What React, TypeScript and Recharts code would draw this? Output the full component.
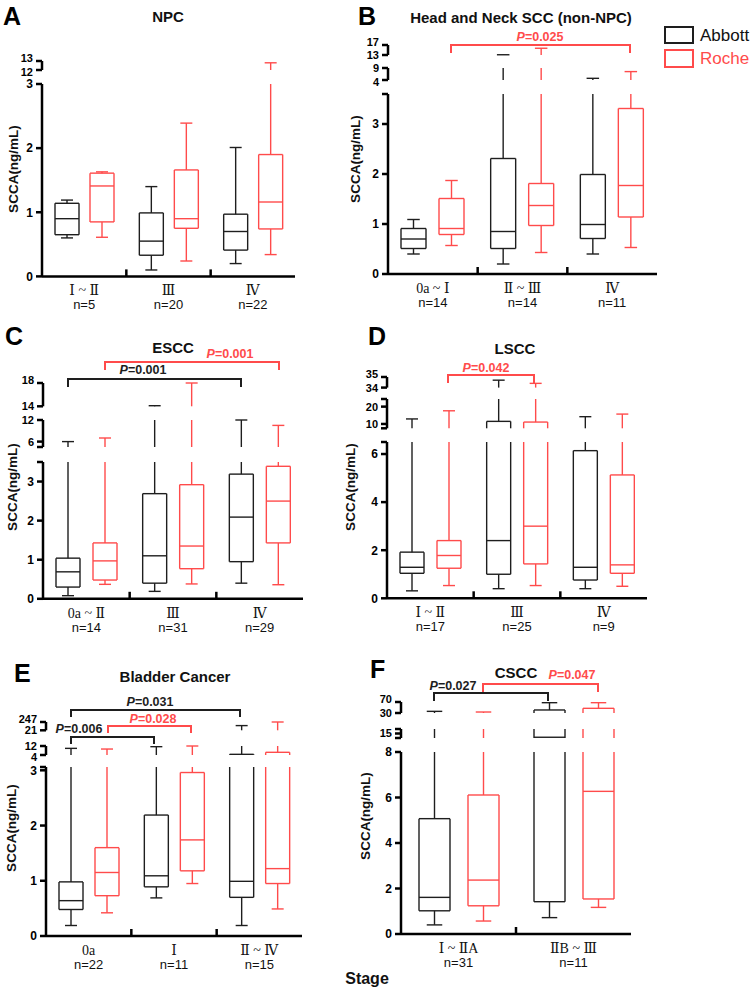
import React from 'react'
import { Bar, ComposedChart, XAxis, YAxis } from 'recharts'

type Box = [number, number, number, number, number] // min, q1, median, q3, max
type Seg = { lo: number; hi: number; ticks: number[]; labels: number[] }

const BLACK = '#1e1e1e'
const RED = '#ff4b4b'
const SANS = "Arial, 'Liberation Sans', Helvetica, sans-serif"
const SERIF = "'Times New Roman', 'Liberation Serif', 'DejaVu Serif', serif"

// ---- A: NPC ----
const npcStages = ['Ⅰ ~ Ⅱ', 'Ⅲ', 'Ⅳ']
const npcN = [5, 20, 22]
const npcAbbott: Box[] = [[0.6, 0.65, 0.9, 1.14, 1.19], [0.1, 0.33, 0.55, 0.99, 1.4], [0.2, 0.41, 0.7, 0.97, 2.01]]
const npcRoche: Box[] = [[0.61, 0.85, 1.41, 1.61, 1.63], [0.24, 0.75, 0.9, 1.66, 2.39], [0.34, 0.74, 1.16, 1.9, 12.8]]
const npcAxis: Seg[] = [
  { lo: 12, hi: 13, ticks: [12, 13], labels: [12, 13] },
  { lo: 0, hi: 3, ticks: [0, 1, 2, 3], labels: [0, 1, 2, 3] },
]

// ---- B: Head and Neck SCC ----
const hnStages = ['0a ~ Ⅰ', 'Ⅱ ~ Ⅲ', 'Ⅳ']
const hnN = [14, 14, 11]
const hnAbbott: Box[] = [[0.4, 0.51, 0.7, 0.91, 1.09], [0.2, 0.51, 0.85, 2.31, 13.1], [0.4, 0.71, 0.99, 1.99, 4.7]]
const hnRoche: Box[] = [[0.57, 0.79, 0.91, 1.51, 1.87], [0.43, 0.97, 1.37, 1.81, 15.7], [0.53, 1.14, 1.77, 3.31, 7.5]]
const hnAxis: Seg[] = [
  { lo: 13, hi: 17, ticks: [13, 17], labels: [13, 17] },
  { lo: 4, hi: 9, ticks: [4, 9], labels: [4, 9] },
  { lo: 0, hi: 3.6, ticks: [0, 1, 2, 3, 3.6], labels: [0, 1, 2, 3] },
]

// ---- C: ESCC ----
const esStages = ['0a ~ Ⅱ', 'Ⅲ', 'Ⅳ']
const esN = [14, 31, 29]
const esAbbott: Box[] = [[0.08, 0.3, 0.69, 1.04, 6.0], [0.19, 0.4, 1.1, 2.69, 14.1], [0.4, 0.95, 2.09, 3.19, 12.0]]
const esRoche: Box[] = [[0.37, 0.48, 0.97, 1.43, 7.0], [0.38, 0.77, 1.35, 2.92, 18.0], [0.36, 1.43, 2.5, 3.39, 10.5]]
const esAxis: Seg[] = [
  { lo: 14, hi: 18, ticks: [14, 18], labels: [14, 18] },
  { lo: 4.5, hi: 12, ticks: [4.5, 6, 12], labels: [6, 12] },
  { lo: 0, hi: 3.5, ticks: [0, 1, 2, 3, 3.5], labels: [0, 1, 2, 3] },
]

// ---- D: LSCC ----
const lsStages = ['Ⅰ ~ Ⅱ', 'Ⅲ', 'Ⅳ']
const lsN = [17, 25, 9]
const lsAbbott: Box[] = [[0.31, 1.04, 1.29, 1.92, 12.9], [0.4, 1.0, 2.4, 11.5, 34.7], [0.4, 0.76, 1.29, 6.14, 14.2]]
const lsRoche: Box[] = [[0.53, 1.25, 1.78, 2.4, 17.6], [0.53, 1.43, 3.0, 11.1, 34.4], [0.5, 1.04, 1.39, 5.13, 15.7]]
const lsAxis: Seg[] = [
  { lo: 34, hi: 35, ticks: [34, 35], labels: [34, 35] },
  { lo: 7.5, hi: 24.4, ticks: [7.5, 10, 20, 24.4], labels: [10, 20] },
  { lo: 0, hi: 6.5, ticks: [0, 2, 4, 6, 6.5], labels: [0, 2, 4, 6] },
]

// ---- E: Bladder Cancer ----
const blStages = ['0a', 'Ⅰ', 'Ⅱ ~ Ⅳ']
const blN = [22, 11, 15]
const blAbbott: Box[] = [[0.19, 0.48, 0.64, 0.98, 9.9], [0.69, 0.89, 1.09, 2.19, 11.4], [0.19, 0.7, 0.99, 4.6, 149]]
const blRoche: Box[] = [[0.42, 0.73, 1.15, 1.6, 9.3], [0.95, 1.18, 1.74, 2.96, 12.0], [0.49, 0.95, 1.22, 6.4, 247]]
const blAxis: Seg[] = [
  { lo: 21, hi: 247, ticks: [21, 247], labels: [21, 247] },
  { lo: 4, hi: 12, ticks: [4, 12], labels: [4, 12] },
  { lo: 0, hi: 3.06, ticks: [0, 1, 2, 3, 3.06], labels: [0, 1, 2, 3] },
]

// ---- F: CSCC ----
const csStages = ['Ⅰ ~ ⅡA', 'ⅡB ~ Ⅲ']
const csN = [31, 11]
const csAbbott: Box[] = [[0.4, 1.02, 1.61, 5.07, 36], [0.72, 1.42, 12.5, 41, 67.5]]
const csRoche: Box[] = [[0.57, 1.24, 2.37, 6.11, 33.6], [1.17, 1.54, 6.27, 47, 67.5]]
const csAxis: Seg[] = [
  { lo: 30, hi: 70, ticks: [30, 70], labels: [30, 70] },
  { lo: 12, hi: 18, ticks: [12, 15, 18], labels: [15] },
  { lo: 0, hi: 8, ticks: [0, 2, 4, 6, 8], labels: [0, 2, 4, 6, 8] },
]

// page layout (pixels)
const panels = [
  { stages: npcStages, n: npcN, abbott: npcAbbott, roche: npcRoche, axis: npcAxis,
    axisX: 42, plotRight: 295, tops: [61, 84.3], bottoms: [70, 276.7], barSize: 24, barGap: 11 },
  { stages: hnStages, n: hnN, abbott: hnAbbott, roche: hnRoche, axis: hnAxis,
    axisX: 388, plotRight: 657, tops: [45, 68, 93.5], bottoms: [55, 80, 273.5], barSize: 25, barGap: 13 },
  { stages: esStages, n: esN, abbott: esAbbott, roche: esRoche, axis: esAxis,
    axisX: 43, plotRight: 303, tops: [382.7, 420, 461.5], bottoms: [406, 447, 598.3], barSize: 24, barGap: 13 },
  { stages: lsStages, n: lsN, abbott: lsAbbott, roche: lsRoche, axis: lsAxis,
    axisX: 387, plotRight: 647, tops: [376.7, 399, 442], bottoms: [387.3, 428.3, 598.3], barSize: 24, barGap: 13 },
  { stages: blStages, n: blN, abbott: blAbbott, roche: blRoche, axis: blAxis,
    axisX: 46, plotRight: 302, tops: [721.7, 746, 766.7], bottoms: [730, 755, 935.7], barSize: 24, barGap: 12 },
  { stages: csStages, n: csN, abbott: csAbbott, roche: csRoche, axis: csAxis,
    axisX: 401, plotRight: 631, tops: [702, 728.5, 752], bottoms: [713, 737.5, 934], barSize: 31, barGap: 18 },
]

const titles = [
  { t: 'NPC', x: 168, y: 22 },
  { t: 'Head and Neck SCC (non-NPC)', x: 521, y: 23 },
  { t: 'ESCC', x: 173, y: 353 },
  { t: 'LSCC', x: 515, y: 354 },
  { t: 'Bladder Cancer', x: 175, y: 682 },
  { t: 'CSCC', x: 516, y: 678 },
]
const letters = [
  { t: 'A', x: 3, y: 25 }, { t: 'B', x: 358, y: 25 },
  { t: 'C', x: 5, y: 345 }, { t: 'D', x: 368, y: 345 },
  { t: 'E', x: 14, y: 682 }, { t: 'F', x: 370, y: 678 },
]
const yTitles = [
  { x: 14, y: 169 }, { x: 356, y: 159 },
  { x: 13, y: 487 }, { x: 351, y: 487 },
  { x: 12, y: 828 }, { x: 366, y: 816 },
]
const brackets = [
  { x1: 451, x2: 630, y: 45, d: 8, c: RED, p: '0.025', tx: 540, ty: 41 },
  { x1: 105, x2: 279, y: 362, d: 8, c: RED, p: '0.001', tx: 230, ty: 358 },
  { x1: 68, x2: 241, y: 379, d: 8, c: BLACK, p: '0.001', tx: 143, ty: 374 },
  { x1: 448, x2: 534, y: 375, d: 8, c: RED, p: '0.042', tx: 486, ty: 372 },
  { x1: 71, x2: 240, y: 710, d: 7, c: BLACK, p: '0.031', tx: 150, ty: 706 },
  { x1: 108, x2: 191, y: 726, d: 7, c: RED, p: '0.028', tx: 153, ty: 723 },
  { x1: 71, x2: 154, y: 737, d: 7, c: BLACK, p: '0.006', tx: 79, ty: 733 },
  { x1: 434, x2: 548, y: 693, d: 8, c: BLACK, p: '0.027', tx: 453, ty: 690 },
  { x1: 483, x2: 598, y: 684, d: 8, c: RED, p: '0.047', tx: 572, ty: 679 },
]

function clip(b: Box, s: Seg): [number, number] | null {
  if (b[4] < s.lo || b[0] > s.hi) return null
  const a = Math.max(b[0], s.lo)
  const c = Math.min(b[4], s.hi)
  if (c - a <= 0) return null
  return [a, c]
}

function BoxShape(props: any) {
  const { x, y, width, height, payload, series, color, seg } = props
  const range = payload[series]
  const b: Box = payload[series + 'Box']
  if (!range || !b) return <g />
  const [a, c] = range
  const py = (v: number) => y + (height * (c - v)) / (c - a)
  const cl = (v: number) => Math.min(Math.max(v, a), c)
  const inSeg = (v: number) => v >= seg.lo && v <= seg.hi
  const cx = x + width / 2
  const capW = width / 2
  const q1 = cl(b[1])
  const q3 = cl(b[3])
  return (
    <g stroke={color} strokeWidth={1.4} fill="none">
      {q1 > a && <line x1={cx} x2={cx} y1={py(a)} y2={py(q1)} />}
      {q3 < c && <line x1={cx} x2={cx} y1={py(q3)} y2={py(c)} />}
      {inSeg(b[0]) && <line x1={cx - capW / 2} x2={cx + capW / 2} y1={py(b[0])} y2={py(b[0])} />}
      {inSeg(b[4]) && <line x1={cx - capW / 2} x2={cx + capW / 2} y1={py(b[4])} y2={py(b[4])} />}
      {q3 > q1 && (
        <>
          <line x1={x} x2={x} y1={py(q3)} y2={py(q1)} />
          <line x1={x + width} x2={x + width} y1={py(q3)} y2={py(q1)} />
        </>
      )}
      {q3 > q1 && inSeg(b[3]) && <line x1={x} x2={x + width} y1={py(b[3])} y2={py(b[3])} />}
      {q3 > q1 && inSeg(b[1]) && <line x1={x} x2={x + width} y1={py(b[1])} y2={py(b[1])} />}
      {inSeg(b[2]) && <line x1={x} x2={x + width} y1={py(b[2])} y2={py(b[2])} />}
    </g>
  )
}

function StageTick(props: any) {
  const { x, y, payload, index, step, ns } = props
  return (
    <g>
      {index > 0 && (
        <line x1={x - step / 2} x2={x - step / 2} y1={y - 7} y2={y} stroke="#000" strokeWidth={2.5} />
      )}
      <text x={x} y={y + 19} textAnchor="middle" fontFamily={SERIF} fontSize={14} fill="#111">
        {payload.value}
      </text>
      <text x={x} y={y + 33} textAnchor="middle" fontFamily={SANS} fontSize={13} fill="#111">
        n={ns[index]}
      </text>
    </g>
  )
}

// value labels on the broken y axis; outer ends of short brackets are nudged apart
function ValueTick(props: any) {
  const { x, y, payload, seg, first, aboveBase } = props
  const v = payload.value
  if (!seg.labels.includes(v)) return <g />
  let dy = 0
  if (first && v === seg.hi) dy = -2.5
  if (aboveBase && v === seg.lo) dy = 2.5
  return (
    <text
      x={x}
      y={y + dy}
      dy="0.36em"
      textAnchor="end"
      fontFamily={SANS}
      fontWeight={700}
      fontSize={first || aboveBase ? 11 : 12}
      fill="#000"
    >
      {v}
    </text>
  )
}

const Y_W = 45
const PAD = 8
const X_H = 45

function Panel({ p }: { p: (typeof panels)[number] }) {
  const plotW = p.plotRight - p.axisX
  const step = plotW / p.stages.length
  const last = p.axis.length - 1
  return (
    <>
      {p.axis.map((seg, si) => {
        const base = si === last
        const h = p.bottoms[si] - p.tops[si]
        const data = p.stages.map((s, i) => ({
          stage: s,
          abbott: clip(p.abbott[i], seg),
          roche: clip(p.roche[i], seg),
          abbottBox: p.abbott[i],
          rocheBox: p.roche[i],
        }))
        return (
          <div key={si} style={{ position: 'absolute', left: p.axisX - Y_W, top: p.tops[si] - PAD }}>
            <ComposedChart
              width={Y_W + plotW + 6}
              height={PAD + h + (base ? X_H : PAD)}
              data={data}
              margin={{ top: PAD, right: 6, bottom: base ? 0 : PAD, left: 0 }}
              barSize={p.barSize}
              barGap={p.barGap}
            >
              <XAxis
                dataKey="stage"
                hide={!base}
                height={X_H}
                interval={0}
                tickLine={false}
                tickSize={0}
                tickMargin={0}
                axisLine={{ stroke: '#000', strokeWidth: 2.5 }}
                tick={(tp: any) => <StageTick {...tp} step={step} ns={p.n} />}
              />
              <YAxis
                type="number"
                width={Y_W}
                domain={[seg.lo, seg.hi]}
                ticks={seg.ticks}
                interval={0}
                tickSize={6}
                tickMargin={3}
                tick={(tp: any) => (
                  <ValueTick {...tp} seg={seg} first={!base && si === 0} aboveBase={si === last - 1} />
                )}
                axisLine={{ stroke: '#000', strokeWidth: 2.5 }}
                tickLine={{ stroke: '#000', strokeWidth: 2.5 }}
              />
              <Bar
                dataKey="abbott"
                isAnimationActive={false}
                shape={(bp: any) => <BoxShape {...bp} series="abbott" color={BLACK} seg={seg} />}
              />
              <Bar
                dataKey="roche"
                isAnimationActive={false}
                shape={(bp: any) => <BoxShape {...bp} series="roche" color={RED} seg={seg} />}
              />
            </ComposedChart>
          </div>
        )
      })}
    </>
  )
}

export default function App() {
  return (
    <div style={{ position: 'absolute', left: 0, top: 0, width: 751, height: 992, background: '#fff', overflow: 'hidden' }}>
      {panels.map((p, i) => (
        <Panel key={i} p={p} />
      ))}
      <svg
        width={751}
        height={992}
        style={{ position: 'absolute', left: 0, top: 0, pointerEvents: 'none' }}
        fontFamily={SANS}
      >
        {letters.map((l) => (
          <text key={l.t} x={l.x} y={l.y} fontSize={25} fontWeight={700} fill="#000">
            {l.t}
          </text>
        ))}
        {titles.map((t) => (
          <text key={t.t} x={t.x} y={t.y} fontSize={15} fontWeight={700} textAnchor="middle" fill="#111">
            {t.t}
          </text>
        ))}
        {yTitles.map((t, i) => (
          <text
            key={i}
            x={t.x}
            y={t.y}
            fontSize={13.5}
            fontWeight={700}
            textAnchor="middle"
            dominantBaseline="middle"
            transform={`rotate(-90 ${t.x} ${t.y})`}
            fill="#111"
          >
            SCCA(ng/mL)
          </text>
        ))}
        {brackets.map((b, i) => (
          <g key={i}>
            <polyline
              points={`${b.x1},${b.y + b.d} ${b.x1},${b.y} ${b.x2},${b.y} ${b.x2},${b.y + b.d}`}
              fill="none"
              stroke={b.c}
              strokeWidth={2}
            />
            <text x={b.tx} y={b.ty} textAnchor="middle" fontSize={12.5} fontWeight={700} fill={b.c}>
              <tspan fontStyle="italic">P</tspan>={b.p}
            </text>
          </g>
        ))}
        <rect x={665} y={27} width={28} height={16} fill="none" stroke={BLACK} strokeWidth={2} />
        <text x={700} y={41} fontSize={17} fill="#111">Abbott</text>
        <rect x={665} y={50} width={28} height={17} fill="none" stroke={RED} strokeWidth={2} />
        <text x={700} y={64} fontSize={17} fill={RED}>Roche</text>
        <text x={367} y={984} fontSize={16} fontWeight={700} textAnchor="middle" fill="#111">
          Stage
        </text>
      </svg>
    </div>
  )
}
